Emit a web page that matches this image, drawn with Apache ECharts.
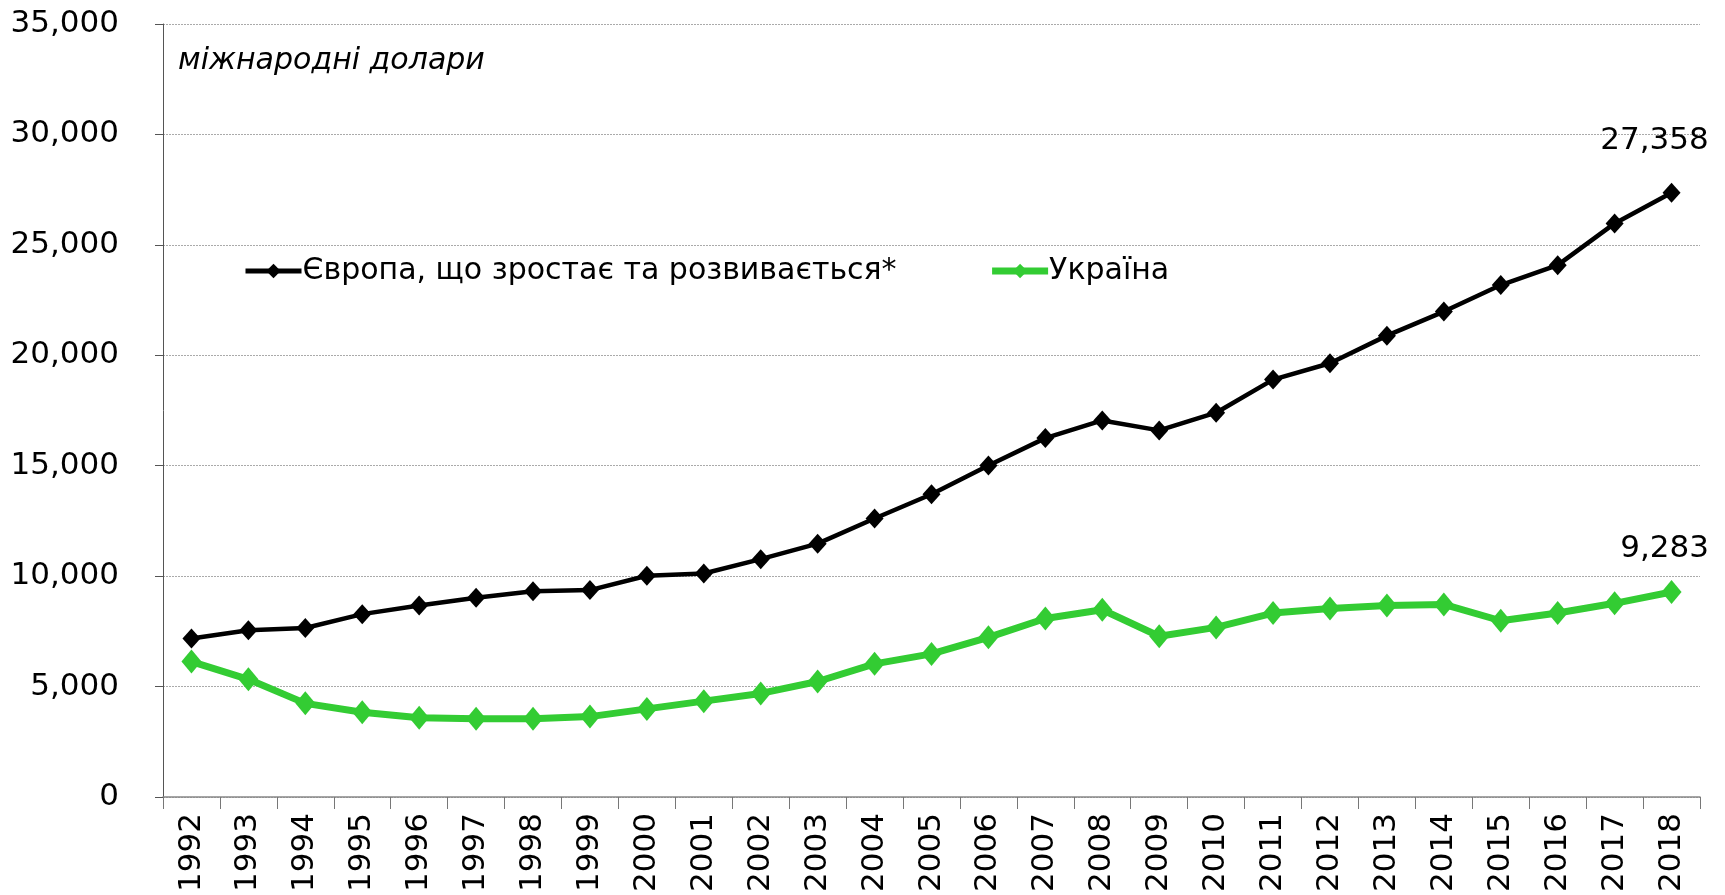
<!DOCTYPE html>
<html><head><meta charset="utf-8">
<script src="https://cdn.jsdelivr.net/npm/echarts@6/dist/echarts.min.js"></script>
<style>html,body{margin:0;padding:0;background:#fff}#c{width:1725px;height:895px}</style>
</head><body><div id="c"></div>
<script>
const years = ['1992','1993','1994','1995','1996','1997','1998','1999','2000','2001','2002','2003','2004','2005','2006','2007','2008','2009','2010','2011','2012','2013','2014','2015','2016','2017','2018'];
const europe = [7180,7550,7650,8280,8670,9020,9320,9370,10020,10120,10770,11470,12610,13710,15010,16250,17050,16600,17400,18900,19640,20890,21980,23180,24080,25970,27358];
const ukraine = [6130,5330,4240,3840,3590,3540,3540,3640,3990,4340,4690,5230,6030,6480,7230,8080,8480,7280,7680,8330,8530,8670,8720,7980,8330,8770,9283];
const seriesNames = ['Європа, що зростає та розвивається*','Україна'];
const unitLabel = 'міжнародні долари';

const FONT = 'DejaVu Sans';
const fmt = v => v.toLocaleString('en-US');
const chart = echarts.init(document.getElementById('c'), null, {renderer:'canvas'});
function lastLabel(data, dist, off){
  return data.map((v,i)=> i===data.length-1 ? {value:v, label:{show:true, position:'top', distance:dist, offset:[off,0], formatter:p=>fmt(p.value), fontFamily:FONT, fontSize:31, color:'#000'}} : v);
}
chart.setOption({
  animation:false,
  textStyle:{fontFamily:FONT},
  grid:{left:163,right:25,top:24,bottom:98,containLabel:false},
  graphic:[{type:'text',left:178,top:46,style:{text:unitLabel,fontFamily:FONT,fontStyle:'italic',fontSize:30,fill:'#000'}}],
  legend:{
    left:238, top:251, itemGap:92, itemWidth:56, itemHeight:18,
    textStyle:{fontFamily:FONT,fontSize:30,color:'#000',padding:[0,0,0,-4]},
    data:[
      {name:seriesNames[0], lineStyle:{width:5}},
      {name:seriesNames[1], lineStyle:{width:7}}
    ]
  },
  xAxis:{
    type:'category', data:years, boundaryGap:true,
    axisLine:{lineStyle:{color:'#888',width:1.5}},
    axisTick:{show:true,length:12,lineStyle:{color:'#777'},interval:0},
    axisLabel:{rotate:90,fontSize:31,color:'#000',margin:16,interval:0,fontFamily:FONT}
  },
  yAxis:{
    type:'value', min:0, max:35000, interval:5000,
    axisLine:{show:true,lineStyle:{color:'#555',width:1}},
    axisTick:{show:true,length:8,lineStyle:{color:'#555'}},
    axisLabel:{fontSize:31,color:'#000',margin:44,formatter:v=>fmt(v),fontFamily:FONT},
    splitLine:{show:true,lineStyle:{color:'#aaa',type:[2,1],width:1}}
  },
  series:[
    {name:seriesNames[0],type:'line',data:lastLabel(europe,26,-17),symbol:'diamond',symbolSize:[18,20],
     lineStyle:{color:'#000',width:4.5},itemStyle:{color:'#000'},z:3},
    {name:seriesNames[1],type:'line',data:lastLabel(ukraine,16,-7),symbol:'diamond',symbolSize:[20,24],
     lineStyle:{color:'#33cc33',width:7},itemStyle:{color:'#33cc33'},z:2}
  ]
});
</script></body></html>
